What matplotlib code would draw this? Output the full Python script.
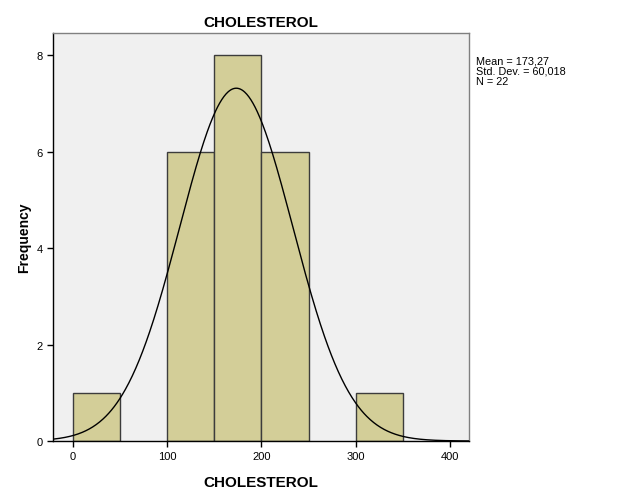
import numpy as np
import matplotlib
matplotlib.use("Agg")
import matplotlib.pyplot as plt

plt.rcParams['font.family'] = ['Liberation Sans', 'DejaVu Sans']

bin_edges = [0, 50, 100, 150, 200, 250, 300, 350]
counts = [1, 0, 6, 8, 6, 0, 1]
mean = 173.27
std = 60.018
n = 22
x_ticks = [0, 100, 200, 300, 400]
y_ticks = [0, 2, 4, 6, 8]

fig = plt.figure(figsize=(6.27, 5.02), dpi=100)
ax = fig.add_axes([53/627, 60/502, 416/627, 408/502])
ax.set_facecolor('#F0F0F0')

lefts = bin_edges[:-1]
widths = np.diff(bin_edges)
for l, w, c in zip(lefts, widths, counts):
    if c > 0:
        ax.bar(l, c, width=w, align='edge', color='#D3CE98', edgecolor='#3C3C3C', linewidth=1.0, zorder=2)

bw = bin_edges[1] - bin_edges[0]
xs = np.linspace(-21, 420, 600)
ys = n * bw / (std * np.sqrt(2 * np.pi)) * np.exp(-0.5 * ((xs - mean) / std) ** 2)
ax.plot(xs, ys, color='black', linewidth=1.0, zorder=3)

ax.set_xlim(-21.2, 420.2)
ax.set_ylim(0, 8.456)
ax.set_xticks(x_ticks)
ax.set_yticks(y_ticks)
ax.tick_params(labelsize=8, length=4, width=1, color='black')

for s in ['left', 'bottom']:
    ax.spines[s].set_color('black')
    ax.spines[s].set_linewidth(1.0)
for s in ['top', 'right']:
    ax.spines[s].set_color('#808080')
    ax.spines[s].set_linewidth(1.0)

ax.set_title('CHOLESTEROL', fontsize=11, fontweight='bold', pad=5)
ax.set_xlabel('CHOLESTEROL', fontsize=11, fontweight='bold', labelpad=10)
ax.set_ylabel('Frequency', fontsize=10, fontweight='bold', labelpad=4)

fig.text(476/627, 1 - 57/502, 'Mean = 173,27\nStd. Dev. = 60,018\nN = 22',
         fontsize=7.8, va='top', ha='left', linespacing=1.0)

fig.savefig('out.png', dpi=100)
